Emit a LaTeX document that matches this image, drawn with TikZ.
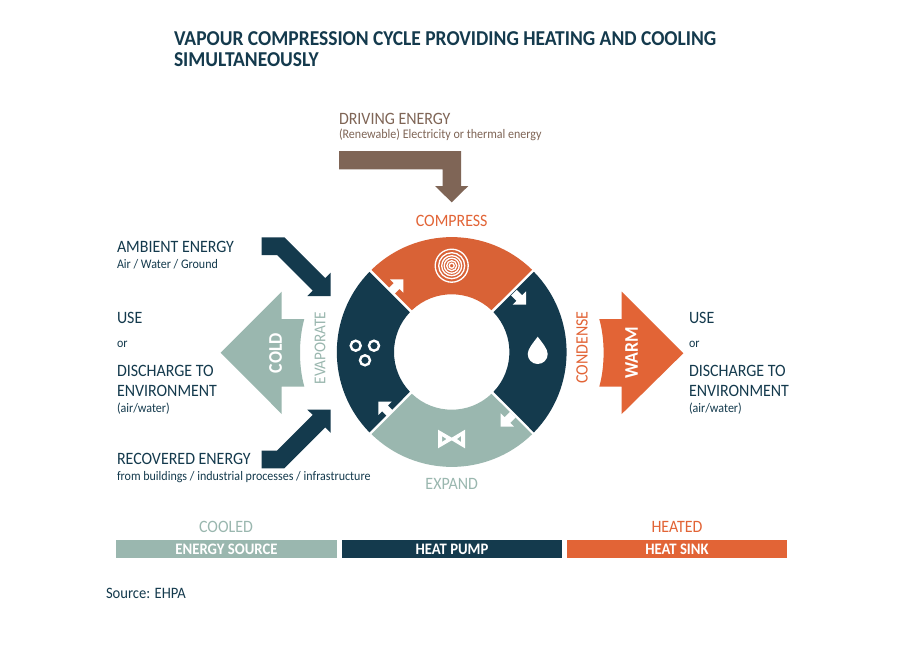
\documentclass[tikz,border=0pt]{standalone}
\usepackage{fontspec}
\setmainfont[FakeStretch=0.92]{Carlito}
\usepackage{xcolor}
\usetikzlibrary{positioning, calc}
\definecolor{navy}{HTML}{143A4D}
\definecolor{warm}{HTML}{E26436}
\definecolor{compress}{HTML}{D96236}
\definecolor{cool}{HTML}{9AB7AF}
\definecolor{drive}{HTML}{7F6556}
\newcommand{\pxfont}[1]{\fontsize{#1}{#1}\selectfont}

\begin{document}
\begin{tikzpicture}[x=0.75pt, y=-0.75pt,
    every node/.style={inner sep=0pt, outer sep=0pt},
    head/.style={font=\pxfont{13}, text=navy, anchor=west},
    sub/.style={font=\pxfont{9.8}, text=navy, anchor=west},
    steplabel/.style={font=\pxfont{13}, anchor=center},
    barlabel/.style={font=\pxfont{12}\bfseries, text=white, anchor=center},
    arrowlabel/.style={font=\pxfont{14.5}\bfseries, text=white, anchor=center, rotate=90},
    flow/.pic={\fill[white] (-17,-4) -- (-9.4,-4) -- (-9.4,-9.4) -- (0,0) -- (-9.4,9.4) -- (-9.4,4) -- (-17,4) -- cycle;}]
  \useasboundingbox (0,0) rectangle (907,671);
  \fill[white] (0,0) rectangle (907,671);
  \coordinate (hub) at (451.7,352);
  % ring
  \fill[compress] ($(hub)+(-80.2,-82.2)$) arc[start angle=134.3, end angle=45.7, x radius=115, y radius=-115] -- ($(hub)+(39.8,-41.8)$) arc[start angle=46.4, end angle=133.6, x radius=57.7, y radius=-57.7] -- cycle;
  \fill[cool] ($(hub)+(-80.2,82.2)$) arc[start angle=225.7, end angle=314.3, x radius=115, y radius=-115] -- ($(hub)+(39.8,41.8)$) arc[start angle=313.6, end angle=226.4, x radius=57.7, y radius=-57.7] -- cycle;
  \fill[navy] ($(hub)+(-82.2,-80.2)$) arc[start angle=135.7, end angle=224.3, x radius=115, y radius=-115] -- ($(hub)+(-41.8,39.8)$) arc[start angle=223.6, end angle=136.4, x radius=57.7, y radius=-57.7] -- cycle;
  \fill[navy] ($(hub)+(82.2,-80.2)$) arc[start angle=44.3, end angle=-44.3, x radius=115, y radius=-115] -- ($(hub)+(41.8,39.8)$) arc[start angle=-43.6, end angle=43.6, x radius=57.7, y radius=-57.7] -- cycle;
  % small arrows
  \pic[rotate=45] at (403.3,279.3) {flow};
  \pic[rotate=-45] at (526,304.7) {flow};
  \pic[rotate=-135] at (500.7,426.7) {flow};
  \pic[rotate=135] at (378.3,401.7) {flow};
  % icons
  \foreach \r in {2.5,5,7.5,10,13,16.5}
    \draw[white, line width=1pt] (451.7,265.7) circle[radius=\r];
  \foreach \x/\y in {355.7/345.7, 374/345.7, 365/360.3}
    \draw[white, line width=1.8pt] (\x,\y) circle[radius=5];
  \fill[white] (537.7,336.7) .. controls (533,343) and (527.7,349) .. (527.7,354) arc[start angle=180, end angle=0, radius=10] .. controls (547.7,349) and (542.4,343) .. (537.7,336.7) -- cycle;
  \fill[white, even odd rule] (438,429.7) -- (454,439) -- (438,448.3) -- cycle (442,436) -- (446.5,439) -- (442,442) -- cycle;
  \fill[white, even odd rule] (465,429.7) -- (449.5,439) -- (465,448.3) -- cycle (461,436) -- (456.9,439) -- (461,442) -- cycle;
  % big arrows
  \fill[drive] (339,151) -- (461,151) -- (461,186) -- (468.3,186) -- (451.7,202.3) -- (435,186) -- (442.7,186) -- (442.7,169.3) -- (339,169.3) -- cycle;
  \fill[navy] (261.7,237.3) -- (284.3,237.3) -- (325.2,278.2) -- (330.7,272.7) -- (330.7,296) -- (307.3,296) -- (312.7,290.7) -- (277,255) -- (261.7,255) -- cycle;
  \fill[navy] (261.7,468.3) -- (284.3,468.3) -- (325.2,427.4) -- (330.7,432.9) -- (330.7,409.6) -- (307.3,409.6) -- (312.7,414.9) -- (277,450.6) -- (261.7,450.6) -- cycle;
  \fill[cool] (220.7,352.7) -- (281.7,291.7) -- (281.7,319) -- (304.3,319) .. controls (301.3,330) and (300,341) .. (300,352.7) .. controls (300,364) and (301.3,376) .. (304.3,386.5) -- (281.7,386.5) -- (281.7,414) -- cycle;
  \fill[warm] (683.3,353.3) -- (621.7,291.7) -- (621.7,319) -- (599.3,319) .. controls (602.3,330) and (603.6,341) .. (603.6,352.7) .. controls (603.6,364) and (602.3,376) .. (599.3,386.5) -- (621.7,386.5) -- (621.7,414) -- cycle;
  % bars
  \fill[cool] (116,540) rectangle (337,558);
  \fill[navy] (342,540) rectangle (562,558);
  \fill[warm] (567,540) rectangle (787,558);
  % texts
  \node[anchor=west, font=\pxfont{15.9}\bfseries, text=navy, align=left] (title) at (174,49) {VAPOUR COMPRESSION CYCLE PROVIDING HEATING AND COOLING\\[0pt]SIMULTANEOUSLY};
  \node[head, text=drive] (driving) at (339,119) {DRIVING ENERGY};
  \node[sub, text=drive] (drivingsub) at (339,135) {(Renewable) Electricity or thermal energy};
  \node[steplabel, text=warm] (compresslabel) at (451.7,221) {COMPRESS};
  \node[steplabel, text=cool] (expandlabel) at (451.7,484) {EXPAND};
  \node[steplabel, font=\pxfont{12.4}, text=cool, rotate=90] (evaporatelabel) at (320,348) {EVAPORATE};
  \node[steplabel, text=warm, rotate=90] (condenselabel) at (582,347.5) {CONDENSE};
  \node[arrowlabel] (coldlabel) at (275.5,353) {COLD};
  \node[arrowlabel] (warmlabel) at (631.7,353) {WARM};
  \node[head] (ambient) at (117,247) {AMBIENT ENERGY};
  \node[sub] (ambientsub) at (117,264) {Air / Water / Ground};
  \node[head] (useleft) at (117,318) {USE};
  \node[sub] (orleft) at (117,344) {or};
  \node[head] (dischargeleft) at (117,371) {DISCHARGE TO};
  \node[head] (envleft) at (117,391) {ENVIRONMENT};
  \node[sub] (airleft) at (117,409) {(air/water)};
  \node[head] (recovered) at (117,459) {RECOVERED ENERGY};
  \node[sub] (recoveredsub) at (117,477) {from buildings / industrial processes / infrastructure};
  \node[head] (useright) at (689,318) {USE};
  \node[sub] (orright) at (689,344) {or};
  \node[head] (dischargeright) at (689,371) {DISCHARGE TO};
  \node[head] (envright) at (689,391) {ENVIRONMENT};
  \node[sub] (airright) at (689,409) {(air/water)};
  \node[steplabel, text=cool] (cooled) at (226,527) {COOLED};
  \node[steplabel, text=warm] (heated) at (677,527) {HEATED};
  \node[barlabel] (source) at (226.5,549) {ENERGY SOURCE};
  \node[barlabel] (pump) at (452,549) {HEAT PUMP};
  \node[barlabel] (sink) at (677,549) {HEAT SINK};
  \node[anchor=west, font=\pxfont{11.9}, text=navy] (ehpa) at (106,593) {Source: EHPA};
\end{tikzpicture}
\end{document}
